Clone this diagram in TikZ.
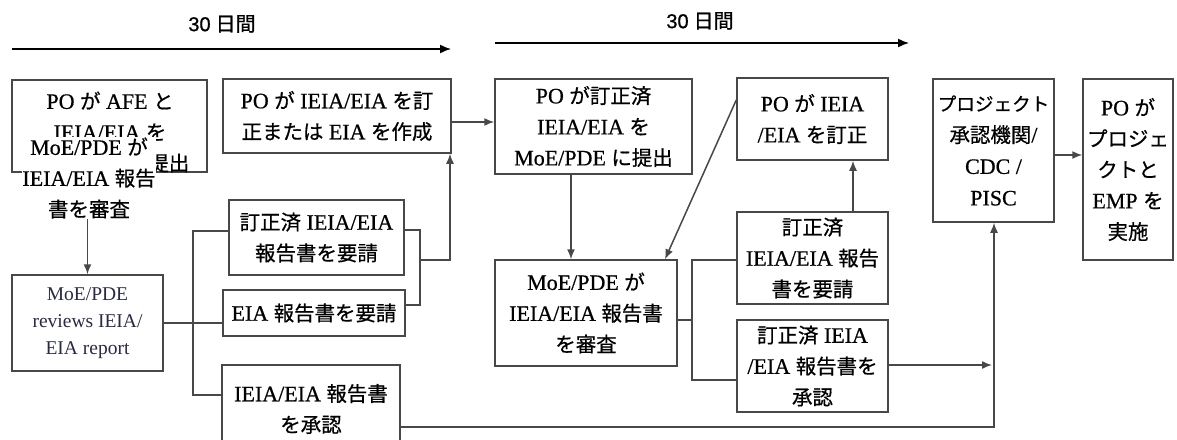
\documentclass[tikz,border=0pt]{standalone}
\usepackage{fontspec}
\setmainfont{Liberation Serif}[FakeBold=0.6]
\newfontfamily\engfont{Liberation Serif}
\newfontfamily\jpfont{Noto Sans CJK JP}[Scale=0.93,FakeBold=0.6]
\newfontfamily\jpsans{Noto Sans CJK JP}[FakeBold=0.8]
\newfontfamily\lsans{Liberation Sans}[FakeBold=0.8]
\newcommand{\jj}[1]{{\jpfont #1}}
\usetikzlibrary{arrows.meta}
\definecolor{boxc}{HTML}{484848}
\definecolor{linec}{HTML}{484848}
\definecolor{engtext}{HTML}{2A2A44}
\tikzset{
  box/.style={draw=boxc, line width=1.5pt, inner sep=2pt, align=center, font=\fontsize{22}{31}\selectfont},
  txt/.style={inner sep=0pt, align=center, font=\fontsize{22}{31}\selectfont},
  engbox/.style={box, text=engtext, font=\engfont\fontsize{19.5}{27}\selectfont},
  ln/.style={draw=linec, line width=1.5pt},
  arr/.style={ln, -{Latex[length=10pt,width=8pt]}},
  toparr/.style={draw=black, line width=1.5pt, -{Latex[length=11pt,width=9pt]}},
  toplbl/.style={inner sep=0pt, font=\fontsize{20}{24}\selectfont}
}
\begin{document}
\begin{tikzpicture}[x=1pt,y=-1pt]
\useasboundingbox (0,0) rectangle (1177,439);
\clip (0,0) rectangle (1177,439);
\fill[white] (0,0) rectangle (1177,439);

% top duration arrows
\coordinate (t1s) at (12,49);
\coordinate (t1e) at (451,49);
\draw[toparr] (t1s) -- (t1e);
\node[toplbl] (t1) at (222,24) {{\lsans 30} {\jpsans 日間}};
\coordinate (t2s) at (495,43);
\coordinate (t2e) at (909,43);
\draw[toparr] (t2s) -- (t2e);
\node[toplbl] (t2) at (700,21) {{\lsans 30} {\jpsans 日間}};

% box A with overlapping label
\node[box, minimum width=195pt, minimum height=92pt] (A) at (109.5,126) {};
\node[txt] (At) at (110,132) {PO \jj{が} AFE \jj{と}\\IEIA/EIA \jj{を}\\MoE/PDE \jj{に提出}};
\node[txt, fill=white] (O) at (89,178) {MoE/PDE \jj{が}\\IEIA/EIA \jj{報告}\\\jj{書を審査}};

% boxes
\node[engbox, minimum width=151pt, minimum height=96pt] (B) at (87.5,323) {MoE/PDE\\reviews IEIA/\\EIA report};
\node[box, minimum width=175pt, minimum height=75pt] (C) at (316.5,237.5) {\jj{訂正済} IEIA/EIA\\\jj{報告書を要請}};
\node[box, minimum width=182pt, minimum height=46pt] (D) at (314,313) {EIA \jj{報告書を要請}};
\node[box, minimum width=178pt, minimum height=88pt] (E) at (311,409) {IEIA/EIA \jj{報告書}\\\jj{を承認}};
\node[box, minimum width=228pt, minimum height=74pt] (F) at (337,116) {PO \jj{が} IEIA/EIA \jj{を訂}\\\jj{正または} EIA \jj{を作成}};
\node[box, minimum width=197pt, minimum height=95pt] (G) at (593.5,126.5) {PO \jj{が訂正済}\\IEIA/EIA \jj{を}\\MoE/PDE \jj{に提出}};
\node[box, minimum width=182pt, minimum height=106pt] (H) at (586,313) {MoE/PDE \jj{が}\\IEIA/EIA \jj{報告書}\\\jj{を審査}};
\node[box, minimum width=151pt, minimum height=82pt] (I) at (812.5,119) {PO \jj{が} IEIA\\/EIA \jj{を訂正}};
\node[box, minimum width=151pt, minimum height=92pt] (J) at (812.5,258) {\jj{訂正済}\\IEIA/EIA \jj{報告}\\\jj{書を要請}};
\node[box, minimum width=151pt, minimum height=92pt] (K) at (812.5,366) {\jj{訂正済} IEIA\\/EIA \jj{報告書を}\\\jj{承認}};
\node[box, minimum width=121pt, minimum height=143pt, font=\fontsize{22}{31.5}\selectfont] (L) at (993.5,150.5) {{\jpfont\fontsize{20}{31.5}\selectfont プロジェクト}\\\jj{承認機関}/\\CDC /\\PISC};
\node[box, minimum width=90pt, minimum height=181pt] (M) at (1128,169.5) {PO \jj{が}\\\jj{プロジェ}\\\jj{クトと}\\EMP \jj{を}\\\jj{実施}};

% connectors
\draw[arr] (O.south -| B.north) -- (B.north);

\coordinate (bu1) at (193,231);
\coordinate (bd1) at (193,395);
\draw[ln] (B.east) -- (B.east -| D.west);
\draw[ln] (C.west |- bu1) -- (bu1) -- (bd1) -- (bd1 -| E.west);

\coordinate (cr) at (420,230);
\coordinate (dr) at (420,305);
\coordinate (fj) at (420,260);
\coordinate (fk) at (450,260);
\draw[ln] (C.east |- cr) -- (cr) -- (dr) -- (dr -| D.east);
\draw[arr] (fj) -- (fk) -- (fk |- F.south);

\coordinate (fg) at (451,122);
\draw[arr] (F.east |- fg) -- (G.west |- fg);

\coordinate (gh) at (571,0);
\draw[arr] (G.south -| gh) -- (H.north -| gh);

\coordinate (is) at (737,100);
\coordinate (ih) at (665,0);
\draw[arr] (I.west |- is) -- (H.north -| ih);

\coordinate (hm) at (692,320);
\coordinate (hu) at (692,260);
\coordinate (hd) at (692,380);
\draw[ln] (H.east |- hm) -- (hm);
\draw[ln] (J.west |- hu) -- (hu) -- (hd) -- (hd -| K.west);

\coordinate (ji) at (853,0);
\draw[arr] (J.north -| ji) -- (I.south -| ji);

\coordinate (kr) at (992,365);
\draw[arr] (K.east |- kr) -- (kr);

\coordinate (eb) at (994,427);
\draw[arr] (E.east |- eb) -- (eb) -- (L.south -| eb);

\coordinate (lm) at (0,155);
\draw[arr] (L.east |- lm) -- (M.west |- lm);
\end{tikzpicture}
\end{document}
